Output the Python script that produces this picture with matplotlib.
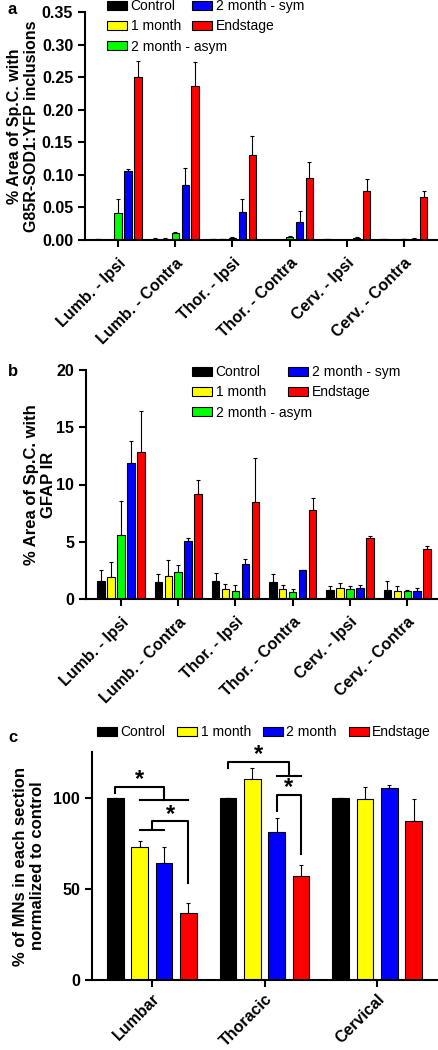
import numpy as np
import matplotlib
matplotlib.use('Agg')
import matplotlib.pyplot as plt
from matplotlib.legend import Legend

plt.rcParams['font.family'] = ['Liberation Sans', 'DejaVu Sans']

# ---- data ----
regions = ['Lumb. - Ipsi', 'Lumb. - Contra', 'Thor. - Ipsi', 'Thor. - Contra', 'Cerv. - Ipsi', 'Cerv. - Contra']
groups_ab = ['Control', '1 month', '2 month - asym', '2 month - sym', 'Endstage']
colors_ab = ['black', '#ffff00', '#00ff00', '#0000ff', '#ff0000']

# panel a: % area with G85R-SOD1:YFP inclusions (rows = groups, cols = regions)
a_mean = [[0.001, 0.002, 0.001, 0.000, 0.001, 0.001],
          [0.000, 0.002, 0.001, 0.000, 0.000, 0.000],
          [0.041, 0.011, 0.003, 0.004, 0.000, 0.001],
          [0.106, 0.084, 0.043, 0.027, 0.003, 0.002],
          [0.250, 0.237, 0.130, 0.095, 0.075, 0.066]]
a_err = [[0.000, 0.001, 0.000, 0.000, 0.001, 0.001],
         [0.000, 0.001, 0.000, 0.000, 0.000, 0.000],
         [0.022, 0.002, 0.001, 0.002, 0.000, 0.000],
         [0.003, 0.026, 0.020, 0.017, 0.001, 0.001],
         [0.025, 0.037, 0.029, 0.024, 0.018, 0.009]]

# panel b: % area with GFAP IR
b_mean = [[1.6, 1.5, 1.6, 1.5, 0.8, 0.8],
          [1.9, 2.0, 0.9, 0.9, 1.0, 0.7],
          [5.6, 2.4, 0.7, 0.6, 0.9, 0.7],
          [11.9, 5.1, 3.1, 2.5, 1.0, 0.7],
          [12.8, 9.2, 8.5, 7.8, 5.3, 4.4]]
b_err = [[0.9, 0.7, 0.7, 0.7, 0.3, 0.8],
         [1.3, 1.4, 0.4, 0.3, 0.4, 0.4],
         [3.0, 0.6, 0.5, 0.3, 0.2, 0.05],
         [1.9, 0.2, 0.4, 0.05, 0.2, 0.3],
         [3.6, 1.2, 3.8, 1.0, 0.2, 0.2]]

# panel c: % MNs normalized to control
sections = ['Lumbar', 'Thoracic', 'Cervical']
groups_c = ['Control', '1 month', '2 month', 'Endstage']
colors_c = ['black', '#ffff00', '#0000ff', '#ff0000']
c_mean = [[100, 100, 100],
          [73, 110, 99],
          [64, 81, 105],
          [37, 57, 87]]
c_err = [[0, 0, 0],
         [3, 6, 7],
         [9, 8, 2],
         [5, 6, 12]]

W, H = 438, 1050
fig = plt.figure(figsize=(W / 100, H / 100), dpi=100)


def px_axes(left, top, right, bottom):
    return fig.add_axes([left / W, 1 - bottom / H, (right - left) / W, (bottom - top) / H])


def style(ax, xpad=6):
    for s in ['top', 'right']:
        ax.spines[s].set_visible(False)
    for s in ['left', 'bottom']:
        ax.spines[s].set_linewidth(1.5)
    ax.tick_params(axis='both', direction='out', length=5, width=1.5, labelsize=11.5)
    ax.tick_params(axis='x', pad=xpad)
    for lab in ax.get_yticklabels():
        lab.set_fontweight('bold')


def grouped(ax, means, errs, colors, labels, step, width):
    n = len(means)
    x = np.arange(len(means[0]))
    for i in range(n):
        xi = x + (i - (n - 1) / 2) * step
        ax.bar(xi, means[i], width, color=colors[i], edgecolor='black', linewidth=0.8, label=labels[i], zorder=2)
        ax.errorbar(xi, means[i], yerr=[np.zeros(len(x)), errs[i]], fmt='none', ecolor='black',
                    elinewidth=0.8, capsize=1.5, capthick=0.8, zorder=1)
    return x


def legend_at(ax, handles, labels, left, yc, ncol=1, cs=0.8):
    # left edge of first patch and centre of first row, in pixels
    leg = Legend(ax, handles, labels, ncol=ncol, loc='upper left',
                 bbox_to_anchor=(left / W, 1 - (yc - 7) / H), bbox_transform=fig.transFigure,
                 frameon=False, fontsize=10, borderpad=0, borderaxespad=0,
                 handlelength=1.45, handleheight=0.6, labelspacing=0.45,
                 columnspacing=cs, handletextpad=0.25)
    ax.add_artist(leg)
    return leg


# ---- panel a ----
ax = px_axes(85, 12, 437, 240)
x = grouped(ax, a_mean, a_err, colors_ab, groups_ab, 0.174, 0.13)
ax.set_ylim(0, 0.35)
ax.set_xlim(-0.58, 5.58)
ax.set_yticks(np.arange(0, 0.351, 0.05))
ax.set_yticklabels(['%.2f' % v for v in np.arange(0, 0.351, 0.05)])
ax.set_xticks(x)
ax.set_xticklabels(regions, rotation=45, ha='right', rotation_mode='anchor', fontweight='bold', fontsize=11)
style(ax)
ax.set_ylabel('% Area of Sp.C. with\nG85R-SOD1:YFP inclusions', fontsize=11.5, fontweight='bold', labelpad=2)
h, l = ax.get_legend_handles_labels()
legend_at(ax, h[:3], l[:3], 107, 6)
legend_at(ax, h[3:], l[3:], 192, 6)
fig.text(8 / W, 1 - 10 / H, 'a', fontsize=12, fontweight='bold', va='center')

# ---- panel b ----
ax = px_axes(86, 370, 437, 599)
x = grouped(ax, b_mean, b_err, colors_ab, groups_ab, 0.174, 0.13)
ax.set_ylim(0, 20)
ax.set_xlim(-0.61, 5.52)
ax.set_yticks([0, 5, 10, 15, 20])
ax.set_xticks(x)
ax.set_xticklabels(regions, rotation=45, ha='right', rotation_mode='anchor', fontweight='bold', fontsize=11)
style(ax)
ax.set_ylabel('% Area of Sp.C. with\nGFAP IR', fontsize=12, fontweight='bold', labelpad=0)
h, l = ax.get_legend_handles_labels()
legend_at(ax, h[:3], l[:3], 192, 372)
legend_at(ax, h[3:], l[3:], 288, 372)
fig.text(8 / W, 1 - 372 / H, 'b', fontsize=12, fontweight='bold', va='center')

# ---- panel c ----
ax = px_axes(92, 752, 437, 980)
step = 0.216
x = grouped(ax, c_mean, c_err, colors_c, groups_c, step, 0.147)
ax.set_ylim(0, 125)
ax.set_xlim(-0.53, 2.53)
ax.set_yticks([0, 50, 100])
ax.set_xticks(x)
ax.set_xticklabels(sections, rotation=45, ha='right', rotation_mode='anchor', fontweight='bold', fontsize=11.5)
style(ax, xpad=3)
ax.set_ylabel('% of MNs in each section\nnormalized to control', fontsize=12, fontweight='bold', labelpad=6)
h, l = ax.get_legend_handles_labels()
legend_at(ax, h, l, 97, 732, ncol=4, cs=0.84)
fig.text(8 / W, 1 - 737 / H, 'c', fontsize=12, fontweight='bold', va='center')


def bx(g, i):
    return g + (i - 1.5) * step


kw = dict(color='black', lw=1.5, clip_on=False)
star = dict(ha='center', va='center', fontsize=17, fontweight='bold')
# lumbar
ax.plot([bx(0, 0), bx(0, 0), bx(0, 2), bx(0, 2)], [102.7, 105.9, 105.9, 98.5], **kw)
ax.plot([bx(0, 1), bx(0, 3)], [98.5, 98.5], **kw)
ax.text((bx(0, 0) + bx(0, 2)) / 2, 110, '*', **star)
mid = (bx(0, 1) + bx(0, 2)) / 2
ax.plot([bx(0, 1), bx(0, 2)], [82.5, 82.5], **kw)
ax.plot([mid, mid, bx(0, 3), bx(0, 3)], [82.5, 87, 87, 53], **kw)
ax.text((mid + bx(0, 3)) / 2, 91, '*', **star)
# thoracic
mid = (bx(1, 2) + bx(1, 3)) / 2
ax.plot([bx(1, 0), bx(1, 0), mid, mid], [116, 119.6, 119.6, 112], **kw)
ax.plot([bx(1, 2), bx(1, 3)], [112, 112], **kw)
ax.text((bx(1, 0) + mid) / 2, 123.5, '*', **star)
ax.plot([bx(1, 2), bx(1, 2), bx(1, 3), bx(1, 3)], [92.7, 101.3, 101.3, 69], **kw)
ax.text(mid, 105.5, '*', **star)

fig.savefig('out.png', dpi=100)
